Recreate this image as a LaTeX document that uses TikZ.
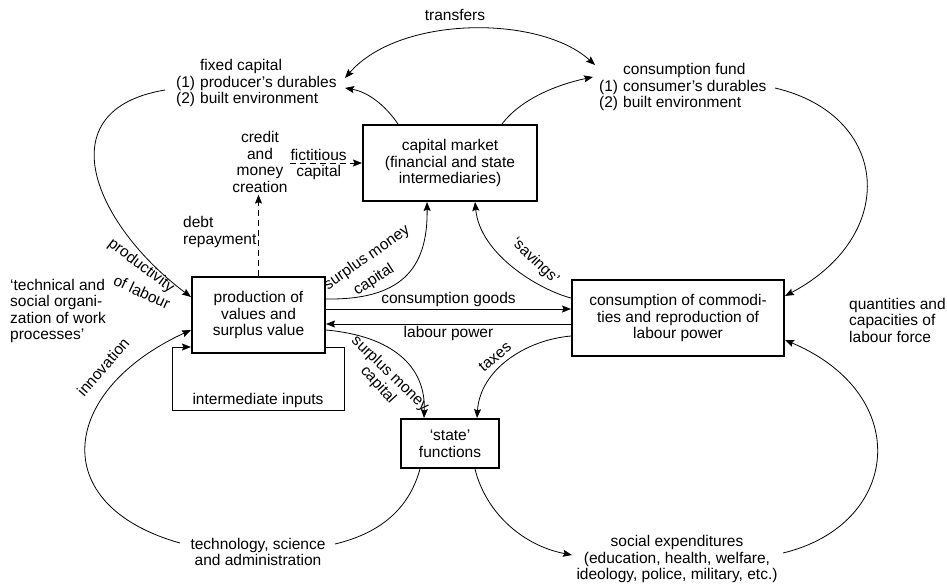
\documentclass[tikz,border=0pt]{standalone}
\usepackage{fontspec}
\setmainfont{Liberation Sans}
\usetikzlibrary{arrows.meta}
\begin{document}
\begin{tikzpicture}[x=1pt,y=-1pt,
  every node/.style={font=\fontsize{15.5}{16.5}\selectfont, inner sep=2pt},
  box/.style={draw, line width=2pt, align=center, inner sep=0pt},
  conn/.style={line width=0.8pt},
  arr/.style={conn, -{Stealth[length=9pt,width=7pt,inset=1.5pt]}},
  darr/.style={conn, {Stealth[length=9pt,width=7pt,inset=1.5pt]}-{Stealth[length=9pt,width=7pt,inset=1.5pt]}},
  dsh/.style={dash pattern=on 6pt off 4pt}
]
\useasboundingbox (0,0) rectangle (947,587);

% boxes
\node[box, minimum width=174pt, minimum height=76pt] (cm) at (450,163) {capital market\\(financial and state\\intermediaries)};
\node[box, minimum width=133pt, minimum height=76pt] (prod) at (258.5,315) {production of\\values and\\surplus value};
\node[box, minimum width=212pt, minimum height=76pt] (cons) at (678,318) {consumption of commodi-\\ties and reproduction of\\labour power};
\node[box, minimum width=98pt, minimum height=49pt] (state) at (450,443.5) {`state'\\functions};

% text nodes
\node[anchor=west, inner sep=0pt] (fixed) at (176,84) {\begin{tabular}{@{}l@{\hspace{5pt}}l@{}} & fixed capital\\ (1) & producer's durables\\ (2) & built environment\end{tabular}};
\node[anchor=west, inner sep=0pt] (fund) at (599,88) {\begin{tabular}{@{}l@{\hspace{5pt}}l@{}} & consumption fund\\ (1) & consumer's durables\\ (2) & built environment\end{tabular}};
\node[align=center] (credit) at (260,162) {credit\\and\\money\\creation};
\node[align=left, anchor=west] (debt) at (181,232) {debt\\repayment};
\node[align=left, anchor=west] (tech) at (8,311) {`technical and\\social organi-\\zation of work\\processes'};
\node[align=left, anchor=west] (qty) at (847,320) {quantities and\\capacities of\\labour force};
\node[align=center] (techno) at (258,552) {technology, science\\and administration};
\node[align=center] (social) at (677,559) {social expenditures\\(education, health, welfare,\\ideology, police, military, etc.)};
\node (transfers) at (455,15) {transfers};

% free ends
\coordinate (fxT) at (345,78);
\coordinate (fxB) at (345,88);
\coordinate (fxL) at (165,90);
\coordinate (cfT) at (595,65);
\coordinate (cfB) at (593,77);
\coordinate (cfR) at (775,88);
\coordinate (tsL) at (180,543);
\coordinate (tsR) at (335,544);
\coordinate (seL) at (572,555);
\coordinate (seR) at (783,553);

% connectors
\draw[darr] (fxT) .. controls (400,15) and (540,15) .. (cfT);
\draw[arr] (cm.north -| 398,0) .. controls (385,105) and (368,92) .. (fxB);
\draw[arr] (cm.north -| 502,0) .. controls (520,100) and (555,85) .. (cfB);
\draw[arr] (fxL) .. controls (45,110) and (95,225) .. (prod.west |- 0,297);
\draw[arr] (tsL) .. controls (45,505) and (60,390) .. (prod.west |- 0,330);
\draw[arr] (cfR) .. controls (890,115) and (900,235) .. (cons.east |- 0,296);
\draw[arr] (seR) .. controls (900,525) and (915,395) .. (cons.east |- 0,340);
\draw[arr] (state.south -| 475,0) .. controls (485,510) and (520,545) .. (seL);
\draw[conn] (state.south -| 420,0) .. controls (410,505) and (385,532) .. (tsR);
\draw[arr] (prod.east |- 0,299) .. controls (400,300) and (428,270) .. (cm.south -| 427,0);
\draw[arr] (cons.west |- 0,298) .. controls (540,290) and (480,255) .. (cm.south -| 475,0);
\draw[arr] (prod.east |- 0,309) -- (cons.west |- 0,309) node[midway, above] (cgl) {consumption goods};
\draw[arr] (cons.west |- 0,324) -- (prod.east |- 0,324) node[midway, below] (lpl) {labour power};
\draw[arr] (prod.east |- 0,330) .. controls (392,336) and (426,366) .. (state.north -| 424,0);
\draw[arr] (cons.west |- 0,336) .. controls (525,340) and (480,370) .. (state.north -| 477,0);
\draw[arr] (prod.east |- 0,347) -- ++(18,0) -- ++(0,63) -- ++(-172,0) -- ++(0,-63) -- (prod.west |- 0,347);
\node (inter) at (258,400) {intermediate inputs};
\draw[arr, dsh] (prod.north) -- (prod.north |- credit.south);
\draw[arr, dsh] (credit.east |- 0,163) -- (cm.west |- 0,163)
  node[pos=0.4, above] (fict) {fictitious} node[pos=0.4, below] (fcap) {capital};

% labels on curves
\node[rotate=-37] (lprod) at (141,266) {productivity};
\node[rotate=-25] (llab) at (142,292) {of labour};
\node[rotate=49] (linno) at (103,367) {innovation};
\node[rotate=35] (lsm1) at (367,258) {surplus money};
\node[rotate=33] (lsc1) at (374,280) {capital};
\node[rotate=-44] (lsm2) at (390,374) {surplus money};
\node[rotate=-48] (lsc2) at (378,385) {capital};
\node[rotate=-44] (lsav) at (535,261) {`savings'};
\node[rotate=40] (ltax) at (495,357) {taxes};
\end{tikzpicture}
\end{document}
